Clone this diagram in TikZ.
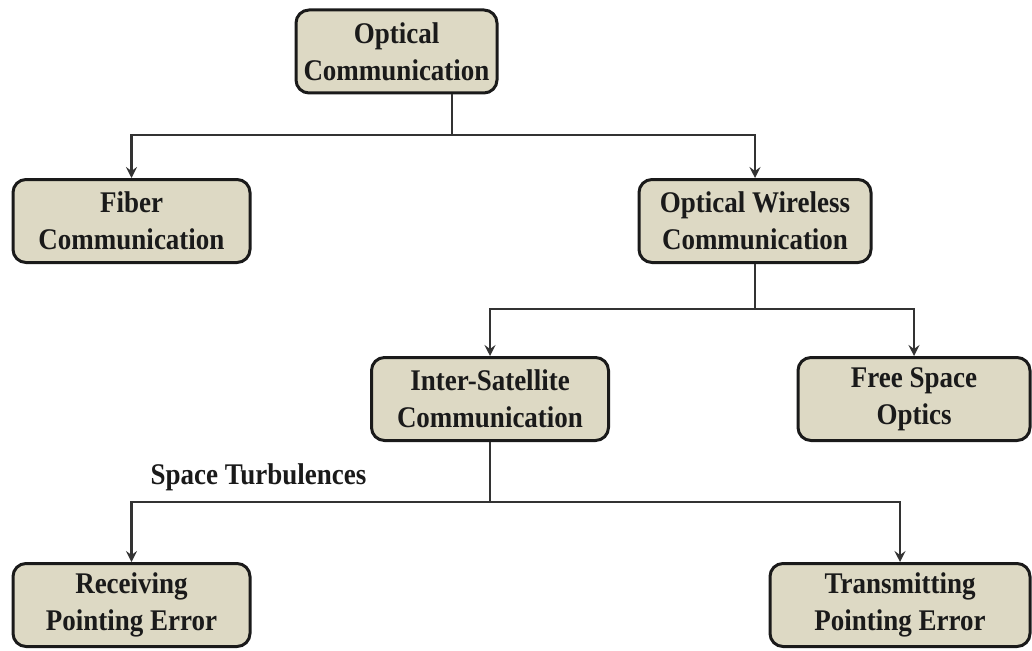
\documentclass[tikz,border=0pt]{standalone}
\usepackage{fontspec}
\setmainfont{Liberation Serif}[FakeStretch=0.9]
\usetikzlibrary{arrows.meta,calc}
\definecolor{boxfill}{HTML}{DDD9C4}
\definecolor{ink}{HTML}{1A1A1A}
\definecolor{wire}{HTML}{333333}
\begin{document}
\begin{tikzpicture}[x=1pt,y=-1pt,
  box/.style={draw=ink, line width=3pt, fill=boxfill, rounded corners=13pt,
    minimum height=83pt, inner sep=0pt, align=center, text=ink,
    font=\fontsize{30}{37}\selectfont\bfseries},
  wireline/.style={draw=wire, line width=2.4pt},
  arr/.style={wireline, -{Stealth[length=11pt,width=11pt,inset=4pt]}},
  lbl/.style={text=ink, inner sep=0pt, font=\fontsize{30}{33}\selectfont\bfseries}]
\useasboundingbox (0,0) rectangle (1032,650);
\node[box, minimum width=201pt] (opt) at (396.5,51.5) {Optical\\Communication};
\node[box, minimum width=237pt] (fib) at (131.5,221) {Fiber\\Communication};
\node[box, minimum width=232pt] (owc) at (755,221) {Optical Wireless\\Communication};
\node[box, minimum width=237pt] (isc) at (490,399) {Inter-Satellite\\Communication};
\node[box, minimum width=232pt] (fso) at (914,399) {Free Space\\Optics};
\node[box, minimum width=237pt] (rpe) at (131.5,605) {Receiving\\Pointing Error};
\node[box, minimum width=260pt] (tpe) at (900,605) {Transmitting\\Pointing Error};
\node[lbl] (st) at (258.5,477) {Space Turbulences};
\coordinate (j1) at (452,135);
\coordinate (j2) at (755,309);
\coordinate (j3) at (490,502);
\draw[wireline] (opt.south -| j1) -- (j1);
\draw[arr] (j1) -| (fib.north);
\draw[arr] (j1) -| (owc.north);
\draw[wireline] (owc.south) -- (j2);
\draw[arr] (j2) -| (isc.north);
\draw[arr] (j2) -| (fso.north);
\draw[wireline] (isc.south) -- (j3);
\draw[arr] (j3) -| (rpe.north);
\draw[arr] (j3) -| (tpe.north);
\end{tikzpicture}
\end{document}
